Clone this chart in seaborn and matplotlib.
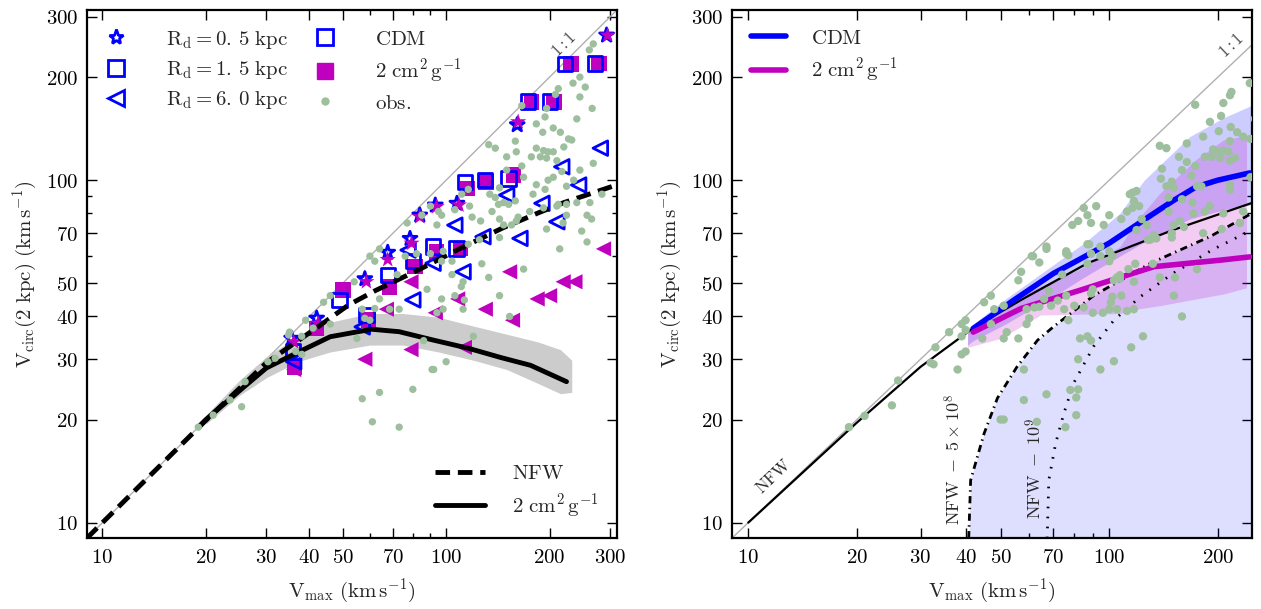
import matplotlib
matplotlib.use("Agg")
import matplotlib.pyplot as plt
from matplotlib.lines import Line2D
from matplotlib.ticker import FixedLocator, FixedFormatter, NullFormatter
import seaborn as sns

# ---------------- left panel: model curves ----------------
nfw_left_x = [9, 10, 20, 30, 43, 52, 62, 84, 111, 146, 184, 220, 315]
nfw_left_y = [9, 10, 19.9, 29.3, 37.7, 43.2, 47.5, 55, 63.5, 72.5, 80, 86, 97]

sidm_left_x = [19, 20, 25.8, 30, 36.5, 46, 60.7, 73, 92, 116, 145, 176, 224]
sidm_left_y = [19, 20, 24.9, 28.3, 31.2, 34.9, 36.7, 36.1, 34.1, 32.3, 30.3, 28.8, 25.8]

band_left_x = [20, 25, 30, 37, 46, 60, 75, 95, 120, 150, 185, 215, 232]
band_left_hi = [20.6, 26, 30.5, 35, 38.5, 40.8, 40.8, 39.8, 37.5, 35.5, 33.7, 32, 29.8]
band_left_lo = [19.4, 23.5, 26.5, 29.5, 31.5, 33, 33, 31.5, 29.8, 28, 25.5, 23.8, 24]

# simulated galaxies, R_d = 0.5 / 1.5 / 6.0 kpc
stars_cdm_x = [35.5, 42, 58, 67.6, 78.5, 83.8, 93, 107.5, 161, 293]
stars_cdm_y = [34.5, 39.5, 51.5, 61.5, 67.5, 79, 84.5, 85.5, 145, 265]
stars_sidm_x = [36, 42.4, 58.6, 67.6, 79.3, 83.8, 93.8, 109, 162, 295]
stars_sidm_y = [33.7, 38.2, 50.5, 58.6, 65.4, 78.2, 83.6, 84.6, 148, 265]

sq_cdm_x = [35.8, 49, 58.6, 67.8, 80, 91.6, 107.2, 113.4, 129.7, 151.7, 172.9, 200.6, 222, 271.4]
sq_cdm_y = [31.6, 44.7, 40.4, 52.8, 58, 63.9, 63.2, 98.9, 100, 101.2, 169.4, 169.4, 218.3, 219]
sq_sidm_x = [36.2, 41.9, 50.1, 59.4, 68.5, 81.1, 93.8, 110.2, 115.3, 130.6, 156.8, 177.4, 205.8, 230.5, 278]
sq_sidm_y = [28.5, 36.9, 47.8, 39.0, 48.8, 55.9, 61.8, 63.2, 94.6, 98.9, 103.5, 169.4, 169.4, 218.3, 219]

tri_cdm_x = [36, 57, 77.5, 80, 91.6, 106, 112, 128, 150, 164, 190, 210, 217, 243, 281]
tri_cdm_y = [29.5, 37.3, 62.5, 44.7, 57.2, 73.9, 54, 68.4, 90.5, 67.6, 85.6, 75.6, 109.4, 96.8, 124]
tri_sidm_x = [36, 58, 67, 79, 79, 93, 108, 113, 130, 153, 156, 184, 200, 219, 237, 287]
tri_sidm_y = [28, 30, 42, 32, 50.5, 41, 45, 32.5, 42, 54, 39, 45, 46, 50.5, 50.5, 63]

obs_left_x = [268, 261, 245, 234, 254, 245, 212, 208, 196, 194, 240, 266, 183, 191, 205, 215,
              227, 232, 220, 133, 139, 150, 159, 160, 150, 166, 168, 183, 192, 198, 205, 188,
              177, 196, 210, 217, 205, 198, 183, 179, 194, 224, 235, 245, 268, 284, 262, 257,
              210, 224, 139, 143, 147, 134, 142, 136, 152, 159, 90, 95, 116, 111, 106, 126,
              162, 166,
              117, 119, 97, 94, 77, 85, 143, 155, 147, 160, 175, 192, 212, 224, 240, 265,
              196, 219, 248, 257, 214, 143, 125, 116, 90, 98, 104, 97, 82, 76, 72, 64, 60,
              62, 54, 46, 44, 39, 41, 38, 35, 38, 55, 60, 57, 64, 68.5, 73, 88, 97, 98, 106,
              112, 94, 127, 133, 168, 143, 153, 120, 100, 92, 86, 104, 112,
              61, 73, 57, 64, 80, 91, 25.4, 19, 46, 58, 62, 21, 26, 30.3, 31.8, 23.5,
              110.7, 113, 34.8, 36.5]
obs_left_y = [250, 240, 200, 192, 187, 175, 185, 178, 162, 153, 151, 162, 146, 138, 142, 138,
              132, 131, 125, 127, 124, 117, 130, 121, 107, 110, 102, 124, 122, 121, 121, 117,
              117, 116, 114, 106, 102, 100, 97, 91, 94, 96, 100, 107, 112, 91, 86, 79,
              84, 79, 89, 95, 86, 91, 85, 81, 85, 87, 84, 81, 94, 91, 82, 76,
              78, 165,
              84, 78, 79, 74, 75, 79, 77, 74, 74, 76, 81, 83, 85, 85, 86, 77,
              72, 75, 71, 66, 63, 68, 67, 65, 61, 62, 58, 58, 61, 60, 53, 63, 60,
              58, 50.5, 46, 44, 39, 37, 35, 36, 31, 34.5, 39, 42, 45, 42, 42, 48, 45, 42, 46,
              42, 41, 57, 52, 55, 46, 40, 35, 29.5, 28, 34, 53, 50.5,
              19.7, 19, 23, 24, 24.5, 28, 21.8, 19, 38, 39.5, 42.2, 20.6, 25.8, 29.5, 30.2, 22.8,
              48.9, 44.7, 35.3, 31.6]

# ---------------- right panel ----------------
nfw_right_x = [10, 20, 30, 42, 57, 87, 150, 250]
nfw_right_y = [10, 19.6, 28.5, 37, 44.7, 57.2, 71.5, 86]

cdm_med_x = [42, 55, 70, 81, 100, 127, 150, 174, 200, 245]
cdm_med_y = [36.9, 45, 53.4, 58, 65.5, 77.5, 87, 95.6, 100, 105]
sidm_med_x = [42, 57, 83, 107, 133, 203, 245]
sidm_med_y = [36, 42.2, 47.7, 52, 55.9, 58.4, 59.7]

cdm_band_x = [40.5, 42, 51.6, 73, 85, 107, 125, 167, 207, 250]
cdm_band_hi = [37, 38, 45, 58.4, 65.4, 80, 100, 134, 152, 166]
cdm_band_lo = [33, 34, 38, 47, 52, 60, 66, 77, 82, 85]

sidm_band_x = [40.5, 50, 64.5, 83, 107, 119, 138, 174, 207, 240]
sidm_band_hi = [36, 43, 49, 55, 64, 76, 91.5, 115, 131, 135]
sidm_band_lo = [32.5, 34.5, 40.4, 40.6, 40.8, 42, 43, 45, 46.5, 48.5]

dd_x = [40.8, 41.3, 45, 49, 55.5, 63.3, 70, 90.5, 130, 190, 248]
dd_y = [9, 13.3, 18.2, 23.1, 28.5, 34.1, 37.3, 46, 57.2, 68.4, 80]
dot_x = [67.3, 68, 71, 74.8, 79.6, 90.5, 103, 122, 150, 194, 248]
dot_y = [9, 13.3, 17, 20.8, 25.5, 32.7, 39, 45.7, 53.4, 62.8, 71.5]

obs_right_x = [245, 256, 218, 216, 207, 173, 204, 190, 253, 201, 217, 226, 182, 164, 144, 138,
               156, 216, 235, 246, 194, 201, 207, 214, 184, 192, 203, 216, 223, 164, 173, 169,
               159, 140, 139, 119, 116, 117, 121, 116, 123, 127, 119, 149, 144, 151, 146, 159,
               170, 175, 180, 190, 184, 171, 157, 151, 161, 146, 216, 216, 246, 230, 205,
               85, 92, 87, 89, 79, 82, 96.5, 100, 108, 114, 112, 88, 76, 67, 61, 94.5, 102,
               128, 133, 149, 182, 207, 235,
               67, 61.5, 64, 76, 77, 57, 56, 47, 45, 48, 51, 40, 36, 33, 40, 39, 40, 39, 38,
               32.6, 44.5, 47, 51, 52, 56, 59, 60, 59, 62, 64, 66, 68, 69, 72, 75, 76, 80, 85,
               77, 90, 96, 100, 105, 112, 117, 101, 102, 108, 90, 89, 103, 105, 107, 107, 117,
               113, 118, 100, 100, 87, 89, 94.5, 87, 74, 138, 152, 151, 175, 159, 124, 115,
               103, 94.5, 83, 87, 89, 82, 82, 81, 81, 75.6, 67, 58, 58, 63, 51, 132, 130, 135,
               149, 19, 21, 25, 26, 32, 50, 39, 78]
obs_right_y = [192, 188, 181, 177, 168, 166, 154, 148, 151, 139, 143, 138, 134, 128, 124, 126,
               117, 130, 134, 132, 123, 121, 122, 121, 117, 117, 116, 114, 116, 113, 110, 103,
               107, 108, 101, 93, 92, 87, 84, 83, 77, 74, 71.5, 99, 96, 95, 89, 88,
               86, 96, 96, 84, 81, 80, 76, 74, 73, 81, 97, 93.6, 102, 75, 72,
               83, 84, 79, 75, 74, 76, 74, 79, 77, 91, 81, 65, 61, 63, 60, 64, 60,
               67, 69, 70, 70, 80, 81,
               64, 60, 57.5, 62, 60.4, 54, 51, 46, 44, 42, 43, 39, 36, 32.5, 36.5, 35, 31.6, 31, 28,
               29, 34.5, 38, 34.5, 36, 34.5, 38, 39.5, 42, 42.5, 42.7, 45, 47.5, 43, 44.5, 42, 46,
               43, 42.5, 39, 41, 41, 42, 42, 41.5, 42, 44, 45.7, 46, 48, 46.7, 51, 52, 52.8, 51.6,
               50.5, 55, 57, 58, 62, 57, 61, 60, 65, 53, 52, 52, 46, 55, 40, 35, 32.5,
               29.6, 28, 34.5, 35, 34, 30, 24.5, 23.2, 20.6, 19, 23.7, 22.8, 28, 19.7, 20, 57, 67,
               67.6, 68, 19, 20.5, 22, 26, 29.3, 20, 38, 24.4]

xticks_left = [10, 20, 30, 40, 50, 70, 100, 200, 300]
xticks_right = [10, 20, 30, 40, 50, 70, 100, 200]
yticks = [10, 20, 30, 40, 50, 70, 100, 200, 300]
minor_ticks = [60, 80, 90]

BLUE = "#0000ff"
MAGENTA = "#bf00bf"
OBS = "#9dbf9d"
ONE = [9, 330]

sns.set_style("ticks")
plt.rcParams.update({
    "font.family": "serif",
    "font.serif": ["DejaVu Serif"],
    "mathtext.fontset": "cm",
    "font.size": 15,
    "axes.linewidth": 1.6,
    "axes.edgecolor": "black",
    "xtick.color": "black",
    "ytick.color": "black",
    "xtick.labelsize": 15,
    "ytick.labelsize": 15,
    "axes.labelsize": 15,
    "xtick.direction": "in",
    "ytick.direction": "in",
    "xtick.top": True,
    "ytick.right": True,
    "xtick.major.size": 7,
    "ytick.major.size": 7,
    "xtick.minor.size": 3.5,
    "ytick.minor.size": 3.5,
    "xtick.major.width": 1,
    "ytick.major.width": 1,
    "xtick.minor.width": 1,
    "ytick.minor.width": 1,
    "xtick.major.pad": 7,
    "ytick.major.pad": 6,
})

XLABEL = r"$\mathrm{V_{max}\ (km\,s^{-1})}$"
YLABEL = r"$\mathrm{V_{circ}(2\ kpc)\ (km\,s^{-1})}$"
SIDM_LABEL = r"$2\ \mathrm{cm^2\,g^{-1}}$"


def setup_axis(ax, xmax, xticks):
    ax.set_xscale("log")
    ax.set_yscale("log")
    ax.set_xlim(9.0, xmax)
    ax.set_ylim(9.0, 314)
    ax.xaxis.set_major_locator(FixedLocator(xticks))
    ax.xaxis.set_major_formatter(FixedFormatter([f"${t}$" for t in xticks]))
    ax.xaxis.set_minor_locator(FixedLocator(minor_ticks))
    ax.xaxis.set_minor_formatter(NullFormatter())
    ax.yaxis.set_major_locator(FixedLocator(yticks))
    ax.yaxis.set_major_formatter(FixedFormatter([f"${t}$" for t in yticks]))
    ax.yaxis.set_minor_locator(FixedLocator(minor_ticks))
    ax.yaxis.set_minor_formatter(NullFormatter())


def line(ax, x, y, **kw):
    sns.lineplot(x=x, y=y, sort=False, estimator=None, ax=ax, **kw)


def open_pts(ax, x, y, marker, s, z):
    sns.scatterplot(x=x, y=y, marker=marker, s=s, color=BLUE, facecolor="none",
                    edgecolor=BLUE, linewidth=2, ax=ax, zorder=z)


def filled_pts(ax, x, y, marker, s, z):
    sns.scatterplot(x=x, y=y, marker=marker, s=s, color=MAGENTA,
                    edgecolor="none", linewidth=0, ax=ax, zorder=z)


fig = plt.figure(figsize=(12.61, 6.09), dpi=100)
ax1 = fig.add_axes([0.0688, 0.1161, 0.4208, 0.8675])
ax2 = fig.add_axes([0.5803, 0.1161, 0.4123, 0.8675])

# ---------------- left ----------------
setup_axis(ax1, 315, xticks_left)
line(ax1, ONE, ONE, color="#b0b0b0", lw=1, zorder=1)
ax1.fill_between(band_left_x, band_left_lo, band_left_hi, color="#cccccc", lw=0, zorder=1)

filled_pts(ax1, tri_sidm_x, tri_sidm_y, "<", 120, 2)
open_pts(ax1, tri_cdm_x, tri_cdm_y, "<", 110, 3)
filled_pts(ax1, sq_sidm_x, sq_sidm_y, "s", 125, 2)
open_pts(ax1, sq_cdm_x, sq_cdm_y, "s", 110, 3)
open_pts(ax1, stars_cdm_x, stars_cdm_y, "*", 110, 3)
filled_pts(ax1, stars_sidm_x, stars_sidm_y, "*", 150, 3)

line(ax1, nfw_left_x, nfw_left_y, color="black", lw=3.5, linestyle=(0, (3, 1.6)), zorder=4)
line(ax1, sidm_left_x, sidm_left_y, color="black", lw=3.5, zorder=4)
sns.scatterplot(x=obs_left_x, y=obs_left_y, s=28, color=OBS, edgecolor="none",
                linewidth=0, ax=ax1, zorder=5)

ax1.text(220, 248, r"$1:1$", rotation=45, ha="center", va="center", fontsize=12, color="#444444")

h_marks = [
    Line2D([], [], ls="none", marker="*", ms=11, mfc="none", mec=BLUE, mew=2),
    Line2D([], [], ls="none", marker="s", ms=11, mfc="none", mec=BLUE, mew=2),
    Line2D([], [], ls="none", marker="<", ms=11, mfc="none", mec=BLUE, mew=2),
    Line2D([], [], ls="none", marker="s", ms=11, mfc="none", mec=BLUE, mew=2),
    Line2D([], [], ls="none", marker="s", ms=11, mfc=MAGENTA, mec=MAGENTA),
    Line2D([], [], ls="none", marker="o", ms=5, mfc=OBS, mec=OBS),
]
l_marks = [r"$\mathrm{R_d}=0.\,5\ \mathrm{kpc}$", r"$\mathrm{R_d}=1.\,5\ \mathrm{kpc}$",
           r"$\mathrm{R_d}=6.\,0\ \mathrm{kpc}$", r"$\mathrm{CDM}$", SIDM_LABEL,
           r"$\mathrm{obs.}$"]
leg1 = ax1.legend(h_marks, l_marks, loc="upper left", ncol=2, frameon=False,
                  handlelength=1.0, handletextpad=1.9, columnspacing=1.3,
                  labelspacing=0.4, fontsize=15)
ax1.add_artist(leg1)
h_lines = [Line2D([], [], color="black", lw=3.5, ls=(0, (3, 1.6))),
           Line2D([], [], color="black", lw=3.5)]
ax1.legend(h_lines, [r"$\mathrm{NFW}$", SIDM_LABEL], loc="lower right", frameon=False,
           handlelength=2.4, handletextpad=1.3, labelspacing=0.4, fontsize=15)
ax1.set_xlabel(XLABEL, labelpad=7)
ax1.set_ylabel(YLABEL, labelpad=5)

# ---------------- right ----------------
setup_axis(ax2, 248, xticks_right)
line(ax2, ONE, ONE, color="#b0b0b0", lw=1, zorder=1)
ax2.fill_between(dd_x, [9.0] * len(dd_x), dd_y, color=BLUE, alpha=0.13, lw=0, zorder=1)
ax2.fill_between(cdm_band_x, cdm_band_lo, cdm_band_hi, color=BLUE, alpha=0.2, lw=0, zorder=1)
ax2.fill_between(sidm_band_x, sidm_band_lo, sidm_band_hi, color=MAGENTA, alpha=0.2, lw=0, zorder=1)

line(ax2, nfw_right_x, nfw_right_y, color="black", lw=1.6, zorder=3)
line(ax2, dd_x, dd_y, color="black", lw=2, linestyle=(0, (2.6, 1.6, 0.5, 1.6)), zorder=3)
line(ax2, dot_x, dot_y, color="black", lw=2, linestyle=(0, (0.6, 3.0)), zorder=3)
line(ax2, cdm_med_x, cdm_med_y, color=BLUE, lw=4, zorder=3)
line(ax2, sidm_med_x, sidm_med_y, color=MAGENTA, lw=4, zorder=3)
sns.scatterplot(x=obs_right_x, y=obs_right_y, s=36, color=OBS, edgecolor="none",
                linewidth=0, ax=ax2, zorder=4)

ax2.text(218, 247, r"$1:1$", rotation=43.5, ha="center", va="center", fontsize=12, color="#444444")
ax2.text(11.8, 13.6, r"$\mathrm{NFW}$", rotation=43.5, ha="center", va="center", fontsize=12)
ax2.text(37.1, 15.3, r"$\mathrm{NFW}\ -\ 5\times10^8$", rotation=90, ha="center",
         va="center", fontsize=13)
ax2.text(62.5, 14.4, r"$\mathrm{NFW}\ -\ 10^9$", rotation=90, ha="center",
         va="center", fontsize=13)

h_med = [Line2D([], [], color=BLUE, lw=4), Line2D([], [], color=MAGENTA, lw=4)]
ax2.legend(h_med, [r"$\mathrm{CDM}$", SIDM_LABEL], loc="upper left", frameon=False,
           handlelength=1.7, handletextpad=1.2, labelspacing=0.4, fontsize=15)
ax2.set_xlabel(XLABEL, labelpad=7)
ax2.set_ylabel(YLABEL, labelpad=5)

fig.savefig("out.png", dpi=100)
